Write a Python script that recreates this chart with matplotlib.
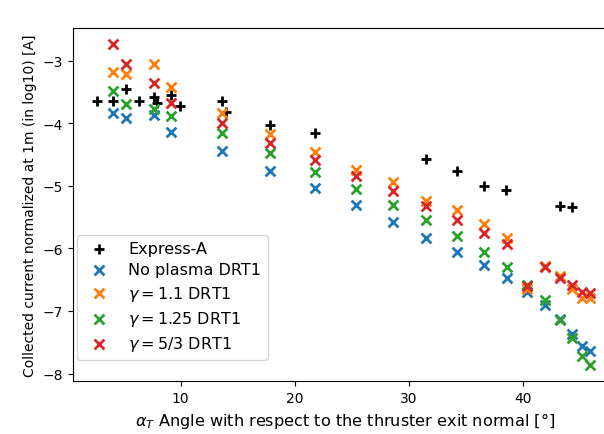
import matplotlib
matplotlib.use('Agg')
import matplotlib.pyplot as plt

# Express-A flight data (black +)
express_x = [2.70, 4.05, 5.19, 6.35, 7.66, 7.95, 9.13, 9.94, 13.59, 13.94,
             17.81, 21.75, 31.52, 34.20, 36.54, 38.52, 43.18, 44.26]
express_y = [-3.64, -3.64, -3.46, -3.65, -3.58, -3.68, -3.55, -3.73, -3.65, -3.82,
             -4.03, -4.16, -4.57, -4.76, -5.01, -5.07, -5.33, -5.34]

# simulation angles shared by the DRT1 series
drt_x = [4.10, 5.19, 7.69, 9.15, 13.59, 17.80, 21.75, 25.33, 28.63, 31.52,
         34.20, 36.54, 38.57, 40.33, 41.87, 43.18, 44.26, 45.17, 45.80]

no_plasma = [-3.83, -3.92, -3.87, -4.14, -4.44, -4.76, -5.04, -5.31, -5.58, -5.83,
             -6.06, -6.26, -6.48, -6.69, -6.90, -7.13, -7.37, -7.56, -7.64]
gamma_11 = [-3.19, -3.22, -3.05, -3.42, -3.84, -4.18, -4.46, -4.75, -4.94, -5.24,
            -5.38, -5.61, -5.84, -6.65, -6.28, -6.44, -6.65, -6.79, -6.79]
gamma_125 = [-3.48, -3.69, -3.77, -3.88, -4.16, -4.47, -4.78, -5.05, -5.31, -5.55,
             -5.81, -6.06, -6.30, -6.58, -6.83, -7.15, -7.44, -7.72, -7.86]
gamma_53 = [-2.73, -3.05, -3.36, -3.68, -4.00, -4.31, -4.59, -4.84, -5.08, -5.32,
            -5.54, -5.75, -5.93, -6.60, -6.30, -6.47, -6.59, -6.69, -6.71]

fig = plt.figure(figsize=(6.04, 4.35), dpi=100)
ax = fig.add_axes([0.1204, 0.1218, 0.9011, 0.8115])

ax.scatter(express_x, express_y, marker='+', color='black', s=60, linewidths=2,
           label='Express-A')
ax.scatter(drt_x, no_plasma, marker='x', color='tab:blue', s=50, linewidths=2,
           label='No plasma DRT1')
ax.scatter(drt_x, gamma_11, marker='x', color='tab:orange', s=50, linewidths=2,
           label=r'$\gamma = 1.1$ DRT1')
ax.scatter(drt_x, gamma_125, marker='x', color='tab:green', s=50, linewidths=2,
           label=r'$\gamma = 1.25$ DRT1')
ax.scatter(drt_x, gamma_53, marker='x', color='tab:red', s=50, linewidths=2,
           label=r'$\gamma = 5/3$ DRT1')

ax.set_xlim(0.55, 48.2)
ax.set_ylim(-8.12, -2.48)
ax.set_xticks([10, 20, 30, 40])
ax.set_yticks([-8, -7, -6, -5, -4, -3])
ax.set_xlabel(r'$\alpha_T$ Angle with respect to the thruster exit normal [°]',
              fontsize=11.6)
ax.set_ylabel('Collected current normalized at 1m (in log10) [A]')
ax.legend(loc='lower left', bbox_to_anchor=(0.008, 0.06), borderaxespad=0,
          fontsize=11.5, labelspacing=0.4)

fig.savefig('out.png', dpi=100)
